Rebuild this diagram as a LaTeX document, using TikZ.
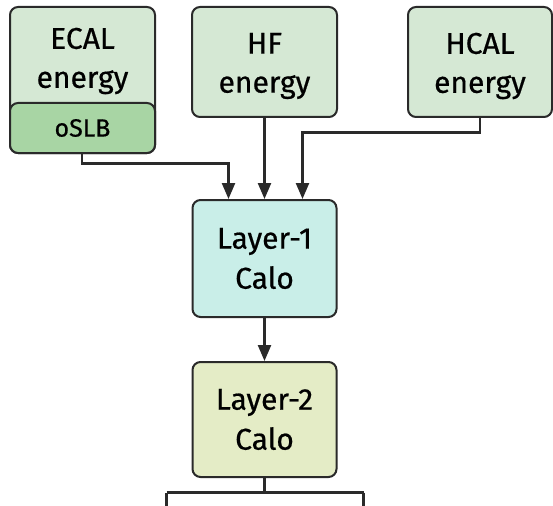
\documentclass[tikz,border=0pt]{standalone}
\usepackage{fontspec}
\setmainfont{Fira Sans}[FakeBold=0.6]
\usetikzlibrary{arrows.meta}
\definecolor{gfill}{HTML}{D5E8D4}
\definecolor{ofill}{HTML}{A8D5A4}
\definecolor{l1fill}{HTML}{C9EEE8}
\definecolor{l2fill}{HTML}{E4ECC6}
\definecolor{bord}{HTML}{2A2A2A}
\tikzset{
  box/.style={draw=bord, line width=2pt, rounded corners=8pt, inner sep=0pt, align=center,
    font=\fontsize{30}{40}\selectfont, text=black},
  txt/.style={align=center, font=\fontsize{30}{39}\selectfont, text=black, inner sep=0pt},
  arr/.style={draw=bord, line width=2.4pt, -{Triangle[width=13pt,length=16pt]}},
  ln/.style={draw=bord, line width=2.4pt},
}
\begin{document}
\begin{tikzpicture}[x=1pt,y=-1pt]
\clip (0,0) rectangle (553,505);
\fill[white] (0,0) rectangle (553,505);
% top row
\node[box, fill=gfill, minimum width=145pt, minimum height=146pt] (ecal) at (82.5,80) {};
\node[box, fill=ofill, minimum width=145pt, minimum height=50pt, font=\fontsize{25}{29}\selectfont] (oslb) at (82.5,128) {oSLB};
\node[txt] (ecaltxt) at (82.5,61) {ECAL\\energy};
\node[box, fill=gfill, minimum width=145pt, minimum height=110pt] (hf) at (264.5,62) {};
\node[txt] (hftxt) at ([yshift=-4pt]hf.center) {HF\\energy};
\node[box, fill=gfill, minimum width=144pt, minimum height=110pt] (hcal) at (480,62) {};
\node[txt] (hcaltxt) at ([yshift=-4pt]hcal.center) {HCAL\\energy};
% layers
\node[box, fill=l1fill, minimum width=144pt, minimum height=117pt] (l1) at (264.5,258.5) {Layer-1\\Calo};
\node[box, fill=l2fill, minimum width=144pt, minimum height=115pt] (l2) at (264.5,419.5) {Layer-2\\Calo};
% connectors
\coordinate (e1) at (228.5,163.5);
\coordinate (h1) at (302.5,132.5);
\coordinate (b0) at (264.5,492.5);
\coordinate (bl) at (166.5,492.5);
\coordinate (br) at (363.5,492.5);
\coordinate (blend) at (166.5,525);
\coordinate (brend) at (363.5,525);
\draw[arr] ([xshift=-0.5pt]oslb.south) |- (e1) -- (e1 |- l1.north);
\draw[arr] (hf.south) -- (l1.north);
\draw[arr] (hcal.south) |- (h1) -- (h1 |- l1.north);
\draw[arr] (l1.south) -- (l2.north);
\draw[ln] (l2.south) -- (b0);
\draw[ln] (bl) -- (br);
\draw[arr] (bl) -- (blend);
\draw[arr] (br) -- (brend);
\end{tikzpicture}
\end{document}
